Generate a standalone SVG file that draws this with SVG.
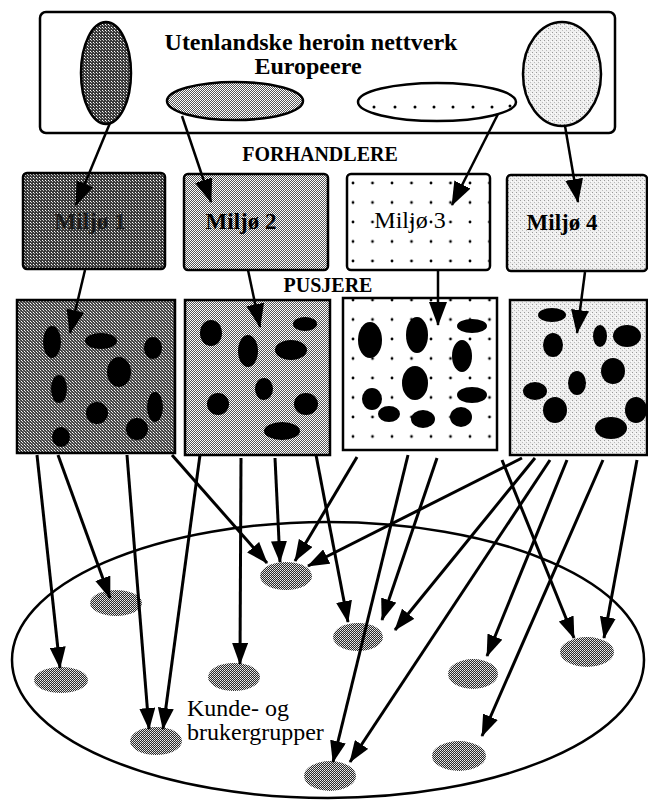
<svg xmlns="http://www.w3.org/2000/svg" width="648" height="802" viewBox="0 0 648 802">
<style>
.lbl{font-family:"Liberation Serif","Times New Roman",serif;fill:#000}
.b{font-weight:bold}
.ln{stroke:#000;stroke-width:3;fill:none;marker-end:url(#ah)}
.lnT{stroke:#000;stroke-width:2.5;fill:none;marker-end:url(#ahT)}
.box{stroke:#000;stroke-width:2.5}
.blob{fill:#000}
.cust{fill:url(#pCust)}
</style>
<defs>
<pattern id="pDark" width="3" height="3" patternUnits="userSpaceOnUse"><rect width="3" height="3" fill="#3a3a3a"/><rect width="1" height="1" fill="#fff"/><rect x="1" y="1" width="1" height="1" fill="#bbb"/></pattern>
<pattern id="pDark2" width="3" height="3" patternUnits="userSpaceOnUse"><rect width="3" height="3" fill="#444"/><rect width="1" height="1" fill="#fff"/><rect x="1" y="1" width="1" height="1" fill="#ddd"/><rect x="2" y="2" width="1" height="1" fill="#888"/></pattern>
<pattern id="pMed" width="2" height="2" patternUnits="userSpaceOnUse"><rect width="2" height="2" fill="#555"/><rect width="1" height="1" fill="#fff"/><rect x="1" y="1" width="1" height="1" fill="#fff"/></pattern>
<pattern id="pCust" width="2" height="2" patternUnits="userSpaceOnUse"><rect width="2" height="2" fill="#2a2a2a"/><rect width="1" height="1" fill="#eee"/><rect x="1" y="1" width="1" height="1" fill="#ccc"/></pattern>
<pattern id="pLight" width="4" height="4" patternUnits="userSpaceOnUse"><rect width="4" height="4" fill="#efefef"/><rect width="1" height="1" fill="#999"/><rect x="2" y="2" width="1" height="1" fill="#bbb"/><rect x="3" y="1" width="1" height="1" fill="#fff"/></pattern>
<pattern id="pDotsA" x="343.25" y="173.25" width="19.5" height="19.5" patternUnits="userSpaceOnUse"><rect width="19.5" height="19.5" fill="#fff"/><circle cx="9.75" cy="9.75" r="1.4" fill="#000"/></pattern>
<pattern id="pDotsB" x="343.25" y="290.25" width="19.5" height="19.5" patternUnits="userSpaceOnUse"><rect width="19.5" height="19.5" fill="#fff"/><circle cx="9.75" cy="9.75" r="1.4" fill="#000"/></pattern>
<marker id="ah" viewBox="0 0 22 16" refX="21" refY="8" markerWidth="22" markerHeight="16" markerUnits="userSpaceOnUse" orient="auto"><path d="M0,0 L22,8 L0,16 Z" fill="#000"/></marker>
<marker id="ahT" viewBox="0 0 24 18" refX="23" refY="9" markerWidth="24" markerHeight="18" markerUnits="userSpaceOnUse" orient="auto"><path d="M0,0 L24,9 L0,18 Z" fill="#000"/></marker>
</defs>
<rect width="648" height="802" fill="#fff"/>

<g id="network">
<rect x="40" y="12" width="575" height="121" rx="6" fill="#fff" stroke="#000" stroke-width="2.5"/>
<text class="lbl b" x="311" y="50" font-size="24" text-anchor="middle">Utenlandske heroin nettverk</text>
<text class="lbl b" x="308" y="74" font-size="24" text-anchor="middle">Europeere</text>
</g>
<g id="src-1"><ellipse cx="106" cy="73" rx="25" ry="51" fill="url(#pDark)" stroke="#000" stroke-width="2.5"/></g>
<g id="src-2"><ellipse cx="235" cy="101" rx="68" ry="19" fill="url(#pMed)" stroke="#000" stroke-width="2.5"/></g>
<g id="src-3"><ellipse cx="437" cy="102" rx="79" ry="19" fill="#fff" stroke="#000" stroke-width="2.5"/>
<g class="blob"><circle cx="374" cy="107" r="1.5"/><circle cx="395" cy="107" r="1.5"/><circle cx="415" cy="107" r="1.5"/><circle cx="434" cy="107" r="1.5"/><circle cx="453" cy="107" r="1.5"/><circle cx="473" cy="107" r="1.5"/><circle cx="492" cy="107" r="1.5"/><circle cx="510" cy="106" r="1.5"/></g></g>
<g id="src-4"><ellipse cx="562" cy="74" rx="39" ry="52" fill="url(#pLight)" stroke="#000" stroke-width="2.5"/></g>

<text class="lbl b" x="320" y="161" font-size="20" text-anchor="middle">FORHANDLERE</text>
<text class="lbl b" x="328" y="292" font-size="20" text-anchor="middle">PUSJERE</text>

<g id="miljo-1"><rect class="box" x="23" y="173" width="142" height="96" rx="4" fill="url(#pDark)"/>
<text class="lbl b" x="90" y="229" font-size="23" text-anchor="middle" style="fill:#1a1a1a">Miljø 1</text></g>
<g id="miljo-2"><rect class="box" x="184" y="174" width="144" height="96" rx="4" fill="url(#pMed)"/>
<text class="lbl b" x="241" y="229" font-size="23" text-anchor="middle">Miljø 2</text></g>
<g id="miljo-3"><rect class="box" x="347" y="174" width="143" height="96" rx="4" fill="url(#pDotsA)"/>
<text class="lbl" x="410" y="228" font-size="24" text-anchor="middle">Miljø 3</text></g>
<g id="miljo-4"><rect class="box" x="507" y="175" width="140" height="96" rx="4" fill="url(#pLight)"/>
<text class="lbl b" x="562" y="230" font-size="23" text-anchor="middle">Miljø 4</text></g>

<g id="pusjere-1"><rect class="box" x="17" y="300" width="158" height="153" fill="url(#pDark2)"/>
<g class="blob">
<ellipse cx="52" cy="342" rx="9" ry="16"/><ellipse cx="101" cy="341" rx="16" ry="8"/><ellipse cx="153" cy="348" rx="9" ry="11"/>
<ellipse cx="119" cy="372" rx="12" ry="15"/><ellipse cx="59" cy="389" rx="8" ry="14"/><ellipse cx="97" cy="413" rx="11" ry="11"/>
<ellipse cx="155" cy="407" rx="8" ry="15"/><ellipse cx="137" cy="429" rx="11" ry="11"/><ellipse cx="61" cy="437" rx="9" ry="10"/>
</g></g>
<g id="pusjere-2"><rect class="box" x="185" y="300" width="145" height="155" fill="url(#pMed)"/>
<g class="blob">
<ellipse cx="211" cy="333" rx="11" ry="13"/><ellipse cx="305" cy="324" rx="12" ry="7"/><ellipse cx="248" cy="351" rx="10" ry="16"/>
<ellipse cx="291" cy="350" rx="16" ry="10"/><ellipse cx="264" cy="389" rx="9" ry="11"/><ellipse cx="218" cy="404" rx="11" ry="11"/>
<ellipse cx="306" cy="404" rx="12" ry="11"/><ellipse cx="282" cy="431" rx="18" ry="9"/>
</g></g>
<g id="pusjere-3"><rect class="box" x="343" y="298" width="154" height="152" fill="url(#pDotsB)"/>
<g class="blob">
<ellipse cx="370" cy="340" rx="12" ry="18"/><ellipse cx="417" cy="335" rx="11" ry="18"/><ellipse cx="472" cy="326" rx="15" ry="7"/>
<ellipse cx="462" cy="356" rx="10" ry="16"/><ellipse cx="415" cy="383" rx="13" ry="17"/><ellipse cx="372" cy="399" rx="10" ry="11"/>
<ellipse cx="472" cy="395" rx="15" ry="8"/><ellipse cx="389" cy="414" rx="11" ry="8"/><ellipse cx="423" cy="419" rx="12" ry="9"/>
<ellipse cx="461" cy="417" rx="11" ry="10"/>
</g></g>
<g id="pusjere-4"><rect class="box" x="510" y="300" width="137" height="155" fill="url(#pLight)"/>
<g class="blob">
<ellipse cx="552" cy="315" rx="14" ry="7"/><ellipse cx="553" cy="345" rx="10" ry="12"/><ellipse cx="600" cy="336" rx="7" ry="11"/>
<ellipse cx="627" cy="336" rx="14" ry="11"/><ellipse cx="613" cy="371" rx="12" ry="13"/><ellipse cx="577" cy="383" rx="9" ry="12"/>
<ellipse cx="535" cy="391" rx="12" ry="9"/><ellipse cx="555" cy="410" rx="12" ry="13"/><ellipse cx="636" cy="410" rx="11" ry="13"/>
<ellipse cx="611" cy="428" rx="16" ry="11"/>
</g></g>

<g id="brukere">
<ellipse cx="328" cy="660" rx="316" ry="138" fill="none" stroke="#000" stroke-width="2.5"/>
<text class="lbl" x="187" y="716" font-size="24">Kunde- og</text>
<text class="lbl" x="187" y="740" font-size="24">brukergrupper</text>
</g>
<g id="grupper">
<ellipse id="g1" class="cust" cx="286" cy="576" rx="26" ry="14"/>
<ellipse id="g2" class="cust" cx="116" cy="603" rx="26" ry="13"/>
<ellipse id="g3" class="cust" cx="61" cy="680" rx="27" ry="13"/>
<ellipse id="g4" class="cust" cx="234" cy="677" rx="26" ry="14"/>
<ellipse id="g5" class="cust" cx="156" cy="741" rx="26" ry="14"/>
<ellipse id="g6" class="cust" cx="358" cy="637" rx="25" ry="14"/>
<ellipse id="g7" class="cust" cx="330" cy="776" rx="26" ry="15"/>
<ellipse id="g8" class="cust" cx="473" cy="674" rx="25" ry="15"/>
<ellipse id="g9" class="cust" cx="587" cy="652" rx="27" ry="15"/>
<ellipse id="g10" class="cust" cx="459" cy="756" rx="27" ry="15"/>
</g>

<g id="connectors">
<line class="lnT" x1="110" y1="123" x2="76" y2="205"/>
<line class="lnT" x1="182" y1="116" x2="211" y2="202"/>
<line class="lnT" x1="498" y1="114" x2="452" y2="205"/>
<line class="lnT" x1="565" y1="126" x2="578" y2="202"/>
<line class="lnT" x1="85" y1="270" x2="70" y2="333"/>
<line class="lnT" x1="248" y1="270" x2="260" y2="327"/>
<line class="lnT" x1="438" y1="270" x2="438" y2="325"/>
<line class="lnT" x1="585" y1="272" x2="577" y2="333"/>

<line class="ln" x1="37" y1="455" x2="60" y2="668"/>
<line class="ln" x1="58" y1="455" x2="110" y2="598"/>
<line class="ln" x1="127" y1="455" x2="149" y2="729"/>
<line class="ln" x1="200" y1="455" x2="163" y2="729"/>
<line class="ln" x1="172" y1="455" x2="267" y2="563"/>
<line class="ln" x1="241" y1="458" x2="240" y2="664"/>
<line class="ln" x1="275" y1="458" x2="280" y2="562"/>
<line class="ln" x1="316" y1="455" x2="348" y2="622"/>
<line class="ln" x1="357" y1="457" x2="295" y2="561"/>
<line class="ln" x1="522" y1="458" x2="308" y2="566"/>
<line class="ln" x1="408" y1="455" x2="333" y2="762"/>
<line class="ln" x1="437" y1="458" x2="382" y2="620"/>
<line class="ln" x1="535" y1="458" x2="395" y2="630"/>
<line class="ln" x1="550" y1="460" x2="350" y2="762"/>
<line class="ln" x1="567" y1="460" x2="487" y2="656"/>
<line class="ln" x1="603" y1="460" x2="482" y2="736"/>
<line class="ln" x1="502" y1="460" x2="574" y2="638"/>
<line class="ln" x1="637" y1="460" x2="604" y2="638"/>
</g>
</svg>
